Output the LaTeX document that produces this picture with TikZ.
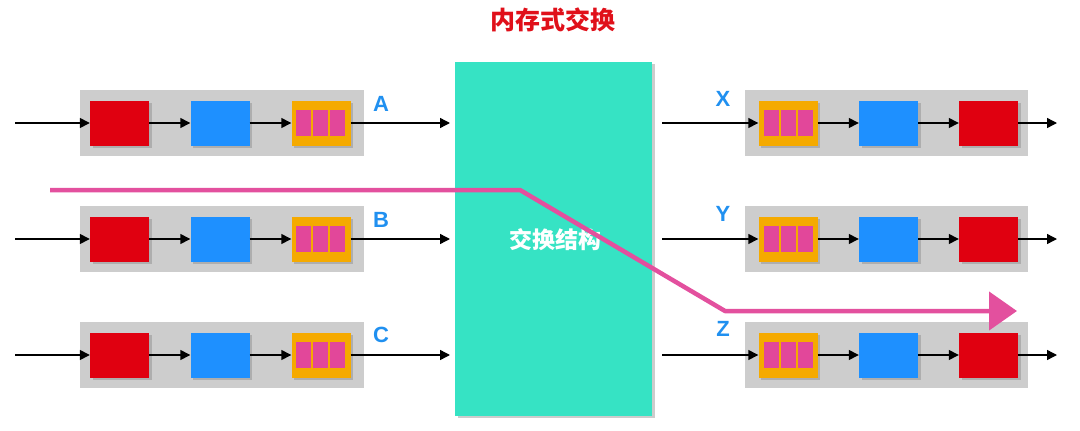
\documentclass[tikz,border=0pt]{standalone}
\usepackage{fontspec}
\setmainfont{Liberation Sans}
\newfontfamily\cjk{Noto Sans CJK SC}
\usetikzlibrary{arrows.meta,shadows,positioning}
\definecolor{cred}{HTML}{E00010}
\definecolor{cblue}{HTML}{1E90FF}
\definecolor{corange}{HTML}{F5AA00}
\definecolor{cpink}{HTML}{E2479A}
\definecolor{cgray}{HTML}{CDCDCD}
\definecolor{cteal}{HTML}{36E3C4}
\definecolor{clabel}{HTML}{2090F0}
\definecolor{cline}{HTML}{E3509E}
\definecolor{ctitle}{HTML}{E0101A}
\tikzset{
  grayrow/.style={fill=cgray,draw=none,minimum width=284pt,minimum height=66pt,inner sep=0pt},
  blk/.style={draw=none,minimum width=59pt,minimum height=45pt,inner sep=0pt,
    drop shadow={shadow xshift=2.5pt,shadow yshift=-2.5pt,opacity=0.4}},
  redblk/.style={blk,fill=cred},
  blueblk/.style={blk,fill=cblue},
  orangeblk/.style={blk,fill=corange},
  cell/.style={fill=cpink,draw=corange,line width=1pt,minimum width=16pt,minimum height=27pt,inner sep=0pt},
  flow/.style={line width=1.4pt,-{Triangle[length=10pt,width=10pt]}},
  portlabel/.style={text=clabel,font=\bfseries\fontsize{22}{22}\selectfont,inner sep=0pt},
}
\begin{document}
\begin{tikzpicture}[x=1pt,y=-1pt]
\useasboundingbox (0,0) rectangle (1080,431);
% title
\node[text=ctitle,font=\cjk\bfseries\fontsize{25}{25}\selectfont] (title) at (553,20) {内存式交换};
% switch fabric
\node[fill=cteal,minimum width=197pt,minimum height=354pt,inner sep=0pt,
  drop shadow={shadow xshift=3pt,shadow yshift=-2pt,opacity=0.4}] (sw) at (553.5,239) {};
\node[text=white,font=\cjk\bfseries\fontsize{23}{23}\selectfont] (swlabel) at (555,240) {交换结构};
% left rows
\foreach \n/\c/\lab/\ly in {A/123/A/104,B/239/B/220,C/355/C/335}{
  \node[grayrow] (g\n) at (222,\c) {};
  \node[redblk] (r\n) at (119.5,\c) {};
  \node[blueblk] (b\n) at (220,\c) {};
  \node[orangeblk] (o\n) at (321,\c) {};
  \node[cell] (p\n2) at (320,\c) {};
  \node[cell,left=0pt of p\n2] (p\n1) {};
  \node[cell,right=0pt of p\n2] (p\n3) {};
  \node[portlabel] (l\n) at (381,\ly) {\lab};
  \coordinate (in\n) at (15,\c);
  \coordinate (out\n) at (450,\c);
  \draw[flow] (in\n) -- (r\n);
  \draw[flow] (r\n) -- (b\n);
  \draw[flow] (b\n) -- (o\n);
  \draw[flow] (o\n) -- (out\n);
}
% right rows
\foreach \n/\c/\lab/\ly in {X/123/X/99,Y/239/Y/214,Z/355/Z/329}{
  \node[grayrow,minimum width=283pt] (g\n) at (886.5,\c) {};
  \node[orangeblk] (o\n) at (788,\c) {};
  \node[cell] (p\n2) at (788,\c) {};
  \node[cell,left=0pt of p\n2] (p\n1) {};
  \node[cell,right=0pt of p\n2] (p\n3) {};
  \node[blueblk] (b\n) at (888.5,\c) {};
  \node[redblk] (r\n) at (988.5,\c) {};
  \node[portlabel] (l\n) at (723,\ly) {\lab};
  \coordinate (in\n) at (662,\c);
  \coordinate (out\n) at (1057,\c);
  \draw[flow] (in\n) -- (o\n);
  \draw[flow] (o\n) -- (b\n);
  \draw[flow] (b\n) -- (r\n);
  \draw[flow] (r\n) -- (out\n);
}
% pink route
\coordinate (ps) at (50,190);
\coordinate (pb1) at (520,190);
\coordinate (pb2) at (725,311);
\coordinate (pe) at (1017,311);
\draw[cline,line width=4.5pt,line join=round,-{Triangle[length=28pt,width=38pt]}]
  (ps) -- (pb1) -- (pb2) -- (pe);
\end{tikzpicture}
\end{document}
